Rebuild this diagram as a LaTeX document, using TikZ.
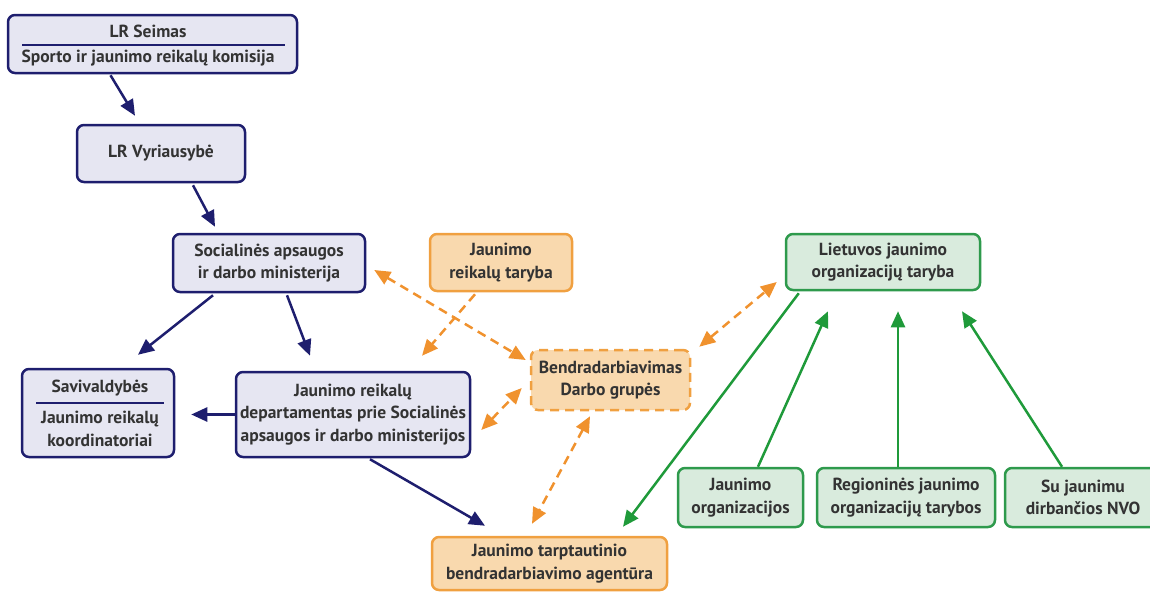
\documentclass[tikz,border=0pt]{standalone}
\usepackage{fontspec}
\setmainfont{PT Sans}
\usetikzlibrary{arrows.meta,calc}
\definecolor{navy}{HTML}{1E1E6E}
\definecolor{navyfill}{HTML}{E6E6F2}
\definecolor{orl}{HTML}{F0A040}
\definecolor{orfill}{HTML}{F9D9AE}
\definecolor{orarrow}{HTML}{F0922E}
\definecolor{grn}{HTML}{2E9A4C}
\definecolor{grnfill}{HTML}{D9EBDD}
\definecolor{grnarrow}{HTML}{1F9A3A}
\definecolor{txt}{HTML}{333333}
\tikzset{
  box/.style={rectangle, rounded corners=7pt, line width=2.5pt, inner sep=0pt, align=center,
    font=\fontsize{17.5}{22.5}\selectfont\bfseries, text=txt},
  bluebox/.style={box, draw=navy, fill=navyfill},
  orbox/.style={box, draw=orl, fill=orfill},
  orboxd/.style={box, draw=orl, fill=orfill, dash pattern=on 9pt off 6pt},
  grbox/.style={box, draw=grn, fill=grnfill},
  lbl/.style={inner sep=0pt, font=\fontsize{17.5}{22.5}\selectfont\bfseries, text=txt},
  barline/.style={line width=2pt, draw=navy},
  bluearrow/.style={line width=2.5pt, draw=navy, -{Triangle[length=16pt,width=14pt]}},
  orarr/.style={line width=2.5pt, draw=orarrow, dash pattern=on 9pt off 6pt, -{Triangle[length=16pt,width=14pt]}},
  orarr2/.style={line width=2.5pt, draw=orarrow, dash pattern=on 9pt off 6pt, {Triangle[length=16pt,width=14pt]}-{Triangle[length=16pt,width=14pt]}},
  grarrow/.style={line width=2.5pt, draw=grnarrow, -{Triangle[length=16pt,width=14pt]}},
}
\begin{document}
\begin{tikzpicture}[x=1pt,y=-1pt]
\useasboundingbox (0,0) rectangle (1150,592);
% blue boxes
\node[bluebox, minimum width=289, minimum height=58] (seimas) at (152.5,44) {};
\node[lbl] (seimasA) at (148,31) {LR Seimas};
\node[lbl] (seimasB) at (148,58) {Sporto ir jaunimo reikalų komisija};
\draw[barline] (22,44.5) -- (285,44.5);
\node[bluebox, minimum width=168, minimum height=57] (vyr) at (161,153.5) {LR Vyriausybė};
\node[bluebox, minimum width=192, minimum height=58] (soc) at (269,263) {Socialinės apsaugos\\ir darbo ministerija};
\node[bluebox, minimum width=152, minimum height=88] (sav) at (98,413) {};
\node[lbl] (savA) at (100,388) {Savivaldybės};
\node[lbl, align=center] (savB) at (100,429) {Jaunimo reikalų\\koordinatoriai};
\draw[barline] (36,402.5) -- (164,402.5);
\node[bluebox, minimum width=234, minimum height=85] (dep) at (353,414.5) {Jaunimo reikalų\\departamentas prie Socialinės\\apsaugos ir darbo ministerijos};
% orange boxes
\node[orbox, minimum width=142, minimum height=57] (jrt) at (501,262.5) {Jaunimo\\reikalų taryba};
\node[orboxd, minimum width=159, minimum height=60] (bendr) at (610.5,380) {Bendradarbiavimas\\Darbo grupės};
\node[orbox, minimum width=235, minimum height=53] (agent) at (549.5,563.5) {Jaunimo tarptautinio\\bendradarbiavimo agentūra};
% green boxes
\node[grbox, minimum width=194, minimum height=56] (liet) at (883,262) {Lietuvos jaunimo\\organizacijų taryba};
\node[grbox, minimum width=125, minimum height=59] (jo) at (740.5,497.5) {Jaunimo\\organizacijos};
\node[grbox, minimum width=178, minimum height=59] (reg) at (906,497.5) {Regioninės jaunimo\\organizacijų tarybos};
\node[grbox, minimum width=156, minimum height=59] (nvo) at (1083,497.5) {Su jaunimu\\dirbančios NVO};
% blue arrows
\draw[bluearrow] ($(seimas.south)+(-42,1)$) -- ($(vyr.north)+(-26,-8)$);
\draw[bluearrow] ($(vyr.south)+(32,2)$) -- ($(soc.north)+(-54,-6)$);
\draw[bluearrow] ($(soc.south)+(-56,2)$) -- ($(sav.north)+(40,-13)$);
\draw[bluearrow] ($(soc.south)+(18,2)$) -- ($(dep.north)+(-43,-15)$);
\draw[bluearrow] (dep.west) -- ($(sav.east)+(16,1.5)$);
\draw[bluearrow] ($(dep.south)+(17,1)$) -- ($(agent.north)+(-64.5,-10)$);
% orange arrows
\draw[orarr] ($(jrt.south)+(-26,2)$) -- ($(dep.north)+(69,-15)$);
\draw[orarr2] ($(soc.east)+(8,7)$) -- ($(bendr.west)+(-4,-20)$);
\draw[orarr2] ($(dep.east)+(10,15.5)$) -- ($(bendr.west)+(-8,8)$);
\draw[orarr2] ($(bendr.north east)+(8,-2)$) -- ($(liet.west)+(-8,20)$);
\draw[orarr2] ($(bendr.south)+(-20.5,5)$) -- ($(agent.north)+(-17.5,-12)$);
% green arrows
\draw[grarrow] ($(liet.south west)+(14,2)$) -- ($(agent.north)+(73.5,-9)$);
\draw[grarrow] ($(jo.north)+(17.5,0)$) -- ($(liet.south)+(-55,20)$);
\draw[grarrow] ($(reg.north)+(-8,0)$) -- ($(liet.south)+(15,20)$);
\draw[grarrow] ($(nvo.north)+(-21,0)$) -- ($(liet.south)+(79,20)$);
\end{tikzpicture}
\end{document}
